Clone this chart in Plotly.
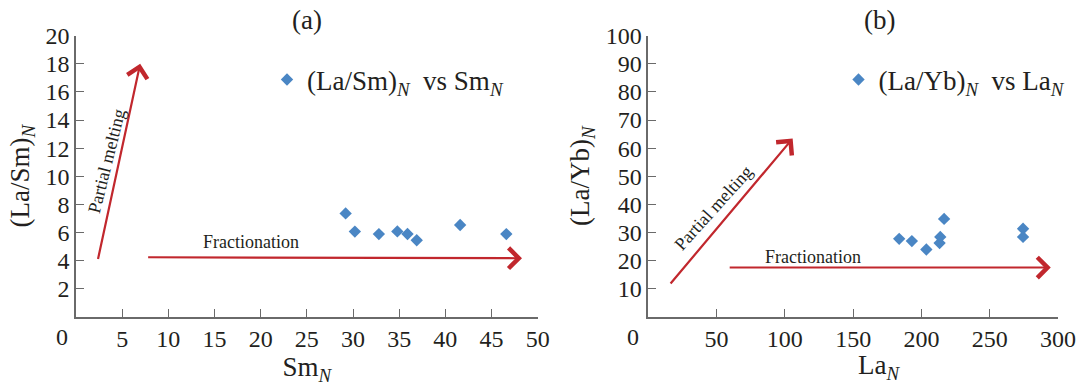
import plotly.graph_objects as go

# ---------------- data ----------------
sm_n = [29.2, 30.2, 32.8, 34.8, 35.9, 36.9, 41.6, 46.6]
la_sm_n = [7.35, 6.06, 5.88, 6.07, 5.89, 5.44, 6.53, 5.88]

la_n = [183.7, 193.0, 203.6, 213.3, 213.8, 216.6, 274.4, 274.4]
la_yb_n = [27.7, 26.9, 23.9, 26.2, 28.4, 34.8, 31.3, 28.4]

# trend arrows: (x_tail, y_tail, x_tip, y_tip)
arrows_a = {"Partial melting": (2.35, 4.0, 6.95, 18.0),
            "Fractionation": (7.65, 4.23, 48.3, 4.16)}
arrows_b = {"Partial melting": (15.4, 11.3, 105.7, 63.4),
            "Fractionation": (58.5, 17.5, 294.7, 17.5)}
# label (x, y, angle)
labels_a = {"Partial melting": (3.3, 11.1, -76), "Fractionation": (19.0, 5.3, 0)}
labels_b = {"Partial melting": (47.5, 38.8, -48), "Fractionation": (120.8, 21.1, 0)}

xticks_a = [5, 10, 15, 20, 25, 30, 35, 40, 45, 50]
yticks_a = [2, 4, 6, 8, 10, 12, 14, 16, 18, 20]
xticks_b = [50, 100, 150, 200, 250, 300]
yticks_b = [10, 20, 30, 40, 50, 60, 70, 80, 90, 100]

# ---------------- style ----------------
W, H = 1081, 386
FONT = "Liberation Serif"
TXT = "#231f20"
AX = "#6a6a6a"
RED = "#c1272d"
BLUE = "#4a86c4"


def px(x):
    return x / W


def py(y):
    return 1 - y / H


fig = go.Figure()
fig.add_trace(go.Scatter(x=sm_n, y=la_sm_n, mode="markers", xaxis="x", yaxis="y",
                         marker=dict(symbol="diamond", size=9.5, color=BLUE),
                         name="(La/Sm)<sub><i>N</i></sub>  vs Sm<sub><i>N</i></sub>",
                         legend="legend"))
fig.add_trace(go.Scatter(x=la_n, y=la_yb_n, mode="markers", xaxis="x2", yaxis="y2",
                         marker=dict(symbol="diamond", size=9.5, color=BLUE),
                         name="(La/Yb)<sub><i>N</i></sub>  vs La<sub><i>N</i></sub>",
                         legend="legend2"))

axis_common = dict(showline=True, linecolor=AX, linewidth=1.6, ticks="inside",
                   ticklen=8, tickwidth=1.3, tickcolor=AX, showgrid=False,
                   zeroline=False, tickfont=dict(family=FONT, size=24, color=TXT),
                   mirror=False, automargin=False)

ydom = [py(316.7), py(35.7)]
fig.update_layout(
    template="none",
    width=W, height=H, margin=dict(l=0, r=0, t=0, b=0, autoexpand=False),
    plot_bgcolor="white", paper_bgcolor="white",
    font=dict(family=FONT, color=TXT),
    xaxis=dict(domain=[px(76), px(537.7)], range=[0, 50], tickmode="array",
               tickvals=xticks_a, anchor="y",
               title=dict(text="Sm<sub><i>N</i></sub>", font=dict(family=FONT, size=27, color=TXT),
                          standoff=3),
               **axis_common),
    yaxis=dict(domain=ydom, range=[0, 20], tickmode="array", tickvals=yticks_a, anchor="x",
               title=dict(text="(La/Sm)<sub><i>N</i></sub>", font=dict(family=FONT, size=27, color=TXT),
                          standoff=8),
               **axis_common),
    xaxis2=dict(domain=[px(648.3), px(1058)], range=[0, 300], tickmode="array",
                tickvals=xticks_b, anchor="y2", **axis_common),
    yaxis2=dict(domain=ydom, range=[0, 100], tickmode="array", tickvals=yticks_b, anchor="x2",
                title=dict(text="(La/Yb)<sub><i>N</i></sub>", font=dict(family=FONT, size=27, color=TXT),
                           standoff=8),
                **axis_common),
    legend=dict(x=px(267), y=py(80), xanchor="left", yanchor="middle", bgcolor="rgba(0,0,0,0)",
                font=dict(family=FONT, size=27, color=TXT), itemwidth=30),
    legend2=dict(x=px(838.5), y=py(80), xanchor="left", yanchor="middle", bgcolor="rgba(0,0,0,0)",
                 font=dict(family=FONT, size=27, color=TXT), itemwidth=30),
    showlegend=True,
)

ann = []


def paper_text(text, x, y, size):
    return dict(text=text, x=px(x), y=py(y), xref="paper", yref="paper", showarrow=False,
                xanchor="center", yanchor="middle", font=dict(family=FONT, size=size, color=TXT))


# panel titles
ann.append(paper_text("(a)", 307, 20, 27))
ann.append(paper_text("(b)", 879, 20, 27))
# origin "0" labels
ann.append(paper_text("0", 61.7, 336.7, 24))
ann.append(paper_text("0", 633.3, 336.7, 24))
# right-panel x title
ann.append(paper_text("La<sub><i>N</i></sub>", 879, 367, 27))

for arrows, labels, xr, yr in ((arrows_a, labels_a, "x", "y"), (arrows_b, labels_b, "x2", "y2")):
    for name, (x0, y0, x1, y1) in arrows.items():
        ann.append(dict(x=x1, y=y1, ax=x0, ay=y0, xref=xr, yref=yr, axref=xr, ayref=yr,
                        text="", showarrow=True, arrowhead=4, arrowsize=1.8, arrowwidth=2.2,
                        arrowcolor=RED, standoff=0, startstandoff=0))
    for name, (lx, ly, ang) in labels.items():
        ann.append(dict(x=lx, y=ly, xref=xr, yref=yr, text=name, showarrow=False, textangle=ang,
                        font=dict(family=FONT, size=18, color=TXT)))

fig.update_layout(annotations=ann)
fig.write_html("out.html")
